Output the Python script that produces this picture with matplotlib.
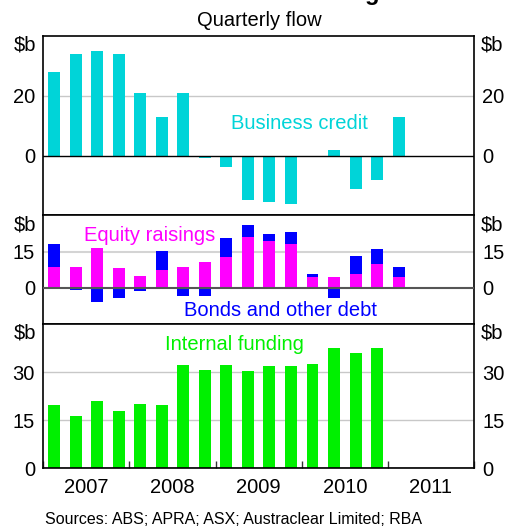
import numpy as np
import matplotlib
matplotlib.use("Agg")
from matplotlib import pyplot as plt

plt.rcParams['font.family'] = ['Liberation Sans', 'DejaVu Sans']

# quarterly flows, $b, starting 2007 Q1
business_credit = [28, 34, 35, 34, 21, 13, 21, -0.8, -3.8, -15, -15.6, -16.2,
                   -0.6, 1.8, -11.2, -8.2, 12.8]
equity = [8.6, 8.6, 16.5, 8.2, 4.9, 7.4, 8.6, 10.7, 12.8, 21.1, 19.4, 18.2,
          4.5, 4.5, 5.7, 9.9, 4.5]
bonds = [9.7, -0.8, -5.8, -4.3, -1.2, 7.9, -3.3, -3.3, 7.9, 5.0, 2.9, 5.0,
         1.2, -4.3, 7.5, 6.2, 4.1]
internal = [19.8, 16.3, 21.0, 17.9, 20.1, 19.8, 32.3, 30.7, 32.3, 30.4, 32.0,
            32.0, 32.6, 37.6, 36.0, 37.6]
years = [2007, 2008, 2009, 2010, 2011]

cyan = '#00d4d8'
magenta = '#ff00ff'
blue = '#0000ff'
green = '#00f000'
fs = 14.5

W, H = 505, 529
fig = plt.figure(figsize=(W / 100, H / 100), dpi=100)

left, right = 43.3 / W, 474 / W
def axes_px(top, bottom):
    return fig.add_axes([left, 1 - bottom / H, right - left, (bottom - top) / H])

ax1 = axes_px(36, 215.3)
ax2 = axes_px(215.3, 324)
ax3 = axes_px(324, 468.3)

def xq(n):
    return 2007 + (np.arange(n) + 0.5) / 4

bw = 0.139

def style(ax, ylim, ticks, zero_color='black', zero_lw=1.0, grid_color='#c8c8c8', grid_lw=1.0):
    ax.set_xlim(2007, 2012)
    ax.set_ylim(*ylim)
    ax.set_yticks(ticks)
    ax.set_yticklabels([str(t) for t in ticks])
    ax.tick_params(axis='y', length=0, pad=6, labelsize=fs, labelright=True)
    for t in ticks:
        if t != 0:
            ax.axhline(t, color=grid_color, lw=grid_lw, zorder=0)
    ax.axhline(0, color=zero_color, lw=zero_lw, zorder=3)
    for s in ax.spines.values():
        s.set_color('black')
        s.set_linewidth(1.2)
    ax.text(-0.016, 1.0, '$b', transform=ax.transAxes, ha='right', va='top', fontsize=fs)
    ax.text(1.016, 1.0, '$b', transform=ax.transAxes, ha='left', va='top', fontsize=fs)

# panel 1: business credit
ax1.bar(xq(len(business_credit)), business_credit, width=bw, color=cyan, zorder=2)
style(ax1, (-20, 40), [0, 20])
ax1.set_xticks([])
ax1.text(2009.97, 10.8, 'Business credit', color=cyan, fontsize=fs, ha='center', va='center')

# panel 2: equity and bonds
eq = np.array(equity)
bd = np.array(bonds)
x2 = xq(len(eq))
ax2.bar(x2, eq, width=bw, color=magenta, zorder=2)
ax2.bar(x2, bd, width=bw, bottom=np.where(bd > 0, eq, 0), color=blue, zorder=2)
style(ax2, (-15, 30), [0, 15], zero_color='#555555', zero_lw=1.5, grid_color='#d4d4d4', grid_lw=1.5)
ax2.set_xticks([])
ax2.text(2008.24, 21.5, 'Equity raisings', color=magenta, fontsize=fs, ha='center', va='center')
ax2.text(2009.75, -9.3, 'Bonds and other debt', color=blue, fontsize=fs, ha='center', va='center')

# panel 3: internal funding
ax3.bar(xq(len(internal)), internal, width=bw, color=green, zorder=2)
style(ax3, (0, 45), [0, 15, 30])
ax3.text(2009.22, 38.5, 'Internal funding', color=green, fontsize=fs, ha='center', va='center')
ax3.set_xticks(years + [2012])
ax3.set_xticklabels([])
ax3.tick_params(axis='x', which='major', direction='in', length=5, width=1, color='#333333')
ax3.set_xticks([y + 0.5 for y in years], minor=True)
ax3.set_xticklabels([str(y) for y in years], minor=True)
ax3.tick_params(axis='x', which='minor', length=0, pad=7, labelsize=fs)

# main title sits mostly above the top edge, as in the source image
fig.text(379 / W, 1.0, 'Business Funding', ha='right', va='baseline',
         fontsize=17, fontweight='bold')
fig.text(259 / W, 1 - 20 / H, 'Quarterly flow', ha='center', va='center', fontsize=fs)
fig.text(45 / W, 1 - 520 / H, 'Sources: ABS; APRA; ASX; Austraclear Limited; RBA',
         ha='left', va='center', fontsize=11.5)

fig.savefig('out.png', dpi=100)
